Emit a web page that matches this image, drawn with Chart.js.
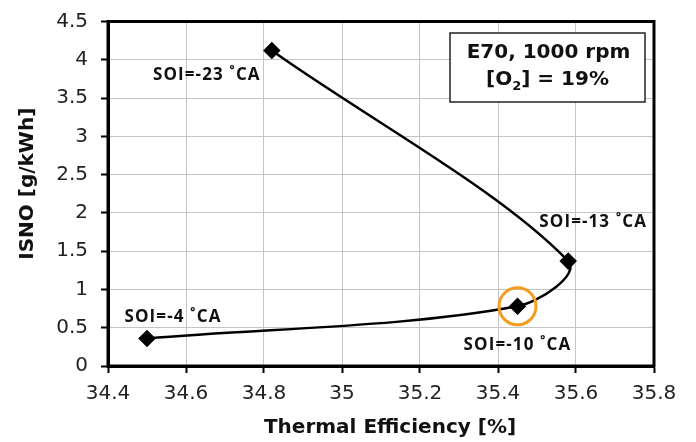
<!DOCTYPE html>
<html><head><meta charset="utf-8">
<script src="https://cdn.jsdelivr.net/npm/chart.js@4/dist/chart.umd.min.js"></script>
<style>html,body{margin:0;padding:0;background:#fff}</style>
</head><body>
<canvas id="c" width="696" height="442"></canvas>
<script>
const efficiency = [34.5, 35.45, 35.58, 34.82];
const isno = [0.36, 0.78, 1.37, 4.12];
const soiLabels = ['SOI=-4 ˚CA', 'SOI=-10 ˚CA', 'SOI=-13 ˚CA', 'SOI=-23 ˚CA'];
const highlightIndex = 1;
const xTitle = 'Thermal Efficiency [%]';
const yTitle = 'ISNO [g/kWh]';
const noteLine1 = 'E70, 1000 rpm';

const labelOffsets = [[26, -21], [0, 39], [25, -39], [-65, 25]];

const pts = efficiency.map((x, i) => ({x, y: isno[i]}));
const FONT = '"DejaVu Sans", sans-serif';

const decor = {
  id: 'decor',
  afterDatasetsDraw(chart) {
    const ctx = chart.ctx, a = chart.chartArea;
    const xs = chart.scales.x, ys = chart.scales.y;
    ctx.save();
    ctx.strokeStyle = '#000'; ctx.lineWidth = 3;
    ctx.strokeRect(a.left, a.top, a.right - a.left, a.bottom - a.top);
    // axis titles
    ctx.fillStyle = '#111';
    ctx.textAlign = 'center'; ctx.textBaseline = 'middle';
    ctx.font = 'bold 20px ' + FONT;
    ctx.fillText(xTitle, (a.left + a.right) / 2 + 9, 428);
    ctx.save();
    ctx.translate(28, (a.top + a.bottom) / 2 - 10);
    ctx.rotate(-Math.PI / 2);
    ctx.fillText(yTitle, 0, 0);
    ctx.restore();
    // point labels
    ctx.font = 'bold 17px "Open Sans", sans-serif';
    ctx.letterSpacing = '1.1px';
    pts.forEach((p, i) => {
      const px = xs.getPixelForValue(p.x), py = ys.getPixelForValue(p.y);
      ctx.fillText(soiLabels[i], px + labelOffsets[i][0], py + labelOffsets[i][1]);
    });
    ctx.letterSpacing = '0px';
    // note box
    const bx = 450, by = 33, bw = 195, bh = 69;
    ctx.fillStyle = '#fff';
    ctx.fillRect(bx, by, bw, bh);
    ctx.lineWidth = 1.5; ctx.strokeStyle = '#222';
    ctx.strokeRect(bx, by, bw, bh);
    ctx.fillStyle = '#111';
    ctx.font = 'bold 20px ' + FONT;
    ctx.fillText(noteLine1, bx + bw / 2 + 1, by + 20);
    const f = 'bold 20px ' + FONT;
    const fs = 'bold 13px ' + FONT;
    const p1 = '[O', sub = '2', p2 = '] = 19%';
    ctx.font = f; const w1 = ctx.measureText(p1).width, w3 = ctx.measureText(p2).width;
    ctx.font = fs; const w2 = ctx.measureText(sub).width;
    let sx = bx + bw / 2 - (w1 + w2 + w3) / 2;
    const ly = by + 47;
    ctx.textAlign = 'left';
    ctx.font = f; ctx.fillText(p1, sx, ly); sx += w1;
    ctx.font = fs; ctx.fillText(sub, sx, ly + 7); sx += w2;
    ctx.font = f; ctx.fillText(p2, sx, ly);
    ctx.restore();
  }
};

new Chart(document.getElementById('c'), {
  type: 'scatter',
  data: {
    datasets: [
      {
        data: pts,
        showLine: true,
        tension: 0.33,
        borderColor: '#000',
        borderWidth: 2.5,
        pointStyle: 'rectRot',
        pointRadius: 7,
        pointBackgroundColor: '#000',
        pointBorderColor: '#000',
        order: 2
      },
      {
        data: [pts[highlightIndex]],
        showLine: false,
        pointStyle: 'circle',
        pointRadius: 18.5,
        pointBackgroundColor: 'rgba(0,0,0,0)',
        pointBorderColor: '#f39c1f',
        pointBorderWidth: 3,
        order: 1
      }
    ]
  },
  options: {
    responsive: false,
    animation: false,
    events: [],
    layout: {padding: {top: 17, right: 42, left: 0, bottom: 0}},
    plugins: {legend: {display: false}, tooltip: {enabled: false}},
    scales: {
      x: {
        type: 'linear', min: 34.4, max: 35.8,
        afterFit: s => { s.height = 76; s.paddingLeft = 0; s.paddingRight = 0; },
        ticks: {stepSize: 0.2, color: '#222', font: {size: 20, family: FONT}, padding: 9,
          callback: v => String(Number(v.toFixed(1)))},
        grid: {color: '#c4c4c4', lineWidth: 1, tickColor: '#000', tickLength: 7, tickWidth: 2},
        border: {display: true, color: '#000', width: 3},
        title: {display: false}
      },
      y: {
        type: 'linear', min: 0, max: 4.5,
        afterFit: s => { s.width = 108; s.paddingTop = 0; s.paddingBottom = 0; },
        ticks: {stepSize: 0.5, color: '#222', font: {size: 20, family: FONT}, padding: 13,
          callback: v => String(Number(v.toFixed(1)))},
        grid: {color: '#c4c4c4', lineWidth: 1, tickColor: '#000', tickLength: 7, tickWidth: 2},
        border: {display: true, color: '#000', width: 3},
        title: {display: false}
      }
    }
  },
  plugins: [decor]
});
</script>
</body></html>
